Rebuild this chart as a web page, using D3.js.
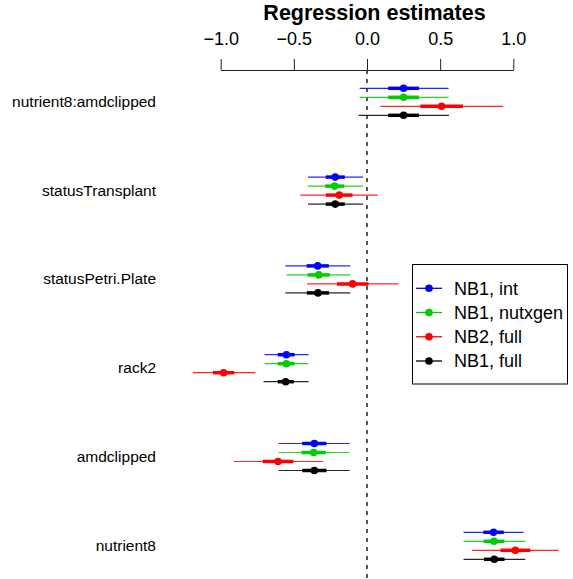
<!DOCTYPE html>
<html>
<head>
<meta charset="utf-8">
<script src="https://cdn.jsdelivr.net/npm/d3@7"></script>
<style>
  html, body { margin: 0; padding: 0; background: #fff; }
  svg { display: block; font-family: "Liberation Sans", Arial, Helvetica, sans-serif; }
</style>
</head>
<body>
<svg id="chart" width="573" height="579"></svg>
<script>
// ---- data ----
const categories = ["nutrient8:amdclipped", "statusTransplant", "statusPetri.Plate", "rack2", "amdclipped", "nutrient8"];
const seriesNames = ["NB1, int", "NB1, nutxgen", "NB2, full", "NB1, full"];
const seriesColors = ["#0000FF", "#00CD00", "#FF0000", "#000000"];
const xTicks = [-1.0, -0.5, 0.0, 0.5, 1.0];

const estBlue  = [0.25, -0.217, -0.337, -0.551, -0.36, 0.865];
const estGreen = [0.25, -0.221, -0.33, -0.551, -0.365, 0.868];
const estRed   = [0.51, -0.19, -0.098, -0.98, -0.608, 1.014];
const estBlack = [0.25, -0.217, -0.335, -0.556, -0.36, 0.87];

const lo95Blue  = [-0.05, -0.403, -0.558, -0.70, -0.604, 0.66];
const hi95Blue  = [0.558, -0.027, -0.114, -0.399, -0.119, 1.07];
const lo95Green = [-0.05, -0.405, -0.55, -0.70, -0.604, 0.66];
const hi95Green = [0.558, -0.027, -0.114, -0.399, -0.119, 1.082];
const lo95Red   = [0.091, -0.456, -0.41, -1.19, -0.912, 0.718];
const hi95Red   = [0.93, 0.075, 0.216, -0.763, -0.30, 1.31];
const lo95Black = [-0.057, -0.403, -0.558, -0.707, -0.604, 0.66];
const hi95Black = [0.56, -0.027, -0.114, -0.399, -0.119, 1.082];

const lo50Blue  = [0.145, -0.282, -0.413, -0.61, -0.443, 0.795];
const hi50Blue  = [0.355, -0.152, -0.261, -0.495, -0.277, 0.935];
const lo50Green = [0.145, -0.286, -0.406, -0.61, -0.448, 0.797];
const hi50Green = [0.355, -0.156, -0.254, -0.495, -0.282, 0.939];
const lo50Red   = [0.364, -0.281, -0.206, -1.053, -0.713, 0.912];
const hi50Red   = [0.656, -0.099, 0.01, -0.907, -0.503, 1.116];
const lo50Black = [0.145, -0.282, -0.411, -0.61, -0.443, 0.80];
const hi50Black = [0.355, -0.152, -0.259, -0.50, -0.277, 0.94];

const est  = [estBlue, estGreen, estRed, estBlack];
const lo95 = [lo95Blue, lo95Green, lo95Red, lo95Black];
const hi95 = [hi95Blue, hi95Green, hi95Red, hi95Black];
const lo50 = [lo50Blue, lo50Green, lo50Red, lo50Black];
const hi50 = [hi50Blue, hi50Green, hi50Red, hi50Black];

// ---- scales ----
const svg = d3.select("#chart");
const x = d3.scaleLinear().domain([-1, 1]).range([220.7, 513.3]);
const yGroup = d3.scalePoint().domain(categories).range([101.8, 545.8]);
const yRow = d3.scalePoint().domain(seriesNames).range([-13.5, 13.5]);

// title
svg.append("text")
  .attr("x", 374.5).attr("y", 19.5)
  .attr("text-anchor", "middle")
  .attr("font-weight", "bold")
  .attr("font-size", 21.5)
  .text("Regression estimates");

// zero reference line
svg.append("line")
  .attr("x1", x(0)).attr("x2", x(0))
  .attr("y1", 70).attr("y2", 579)
  .attr("stroke", "#555")
  .attr("stroke-width", 2)
  .attr("stroke-dasharray", "4,5");

// top axis
const axis = svg.append("g")
  .attr("transform", "translate(0,70)")
  .call(d3.axisTop(x).tickValues(xTicks).tickSize(11).tickSizeOuter(0).tickPadding(14).tickFormat(d3.format(".1f")));
axis.select(".domain").attr("stroke", "#222");
axis.selectAll(".tick line").attr("stroke", "#222");
axis.selectAll(".tick text").attr("font-size", 18).attr("fill", "#000")
  .style("font-family", "'Liberation Sans', Arial, Helvetica, sans-serif");

// category labels
svg.append("g").selectAll("text")
  .data(categories)
  .join("text")
  .attr("x", 156)
  .attr("y", d => yGroup(d) + 5)
  .attr("text-anchor", "end")
  .attr("font-size", 15.5)
  .text(d => d);

// estimates
const rows = [];
seriesNames.forEach((s, si) => {
  categories.forEach((c, ci) => {
    rows.push({ s, si, c, est: est[si][ci], lo95: lo95[si][ci], hi95: hi95[si][ci], lo50: lo50[si][ci], hi50: hi50[si][ci] });
  });
});
const g = svg.append("g");
const yOf = d => yGroup(d.c) + yRow(d.s);
g.selectAll("line.thin").data(rows).join("line").attr("class", "thin")
  .attr("x1", d => x(d.lo95)).attr("x2", d => x(d.hi95))
  .attr("y1", yOf).attr("y2", yOf)
  .attr("stroke", d => seriesColors[d.si]).attr("stroke-width", 1.2).attr("stroke-opacity", 0.85);
g.selectAll("line.thick").data(rows).join("line").attr("class", "thick")
  .attr("x1", d => x(d.lo50)).attr("x2", d => x(d.hi50))
  .attr("y1", yOf).attr("y2", yOf)
  .attr("stroke", d => seriesColors[d.si]).attr("stroke-width", 3.5);
g.selectAll("circle").data(rows).join("circle")
  .attr("cx", d => x(d.est)).attr("cy", yOf).attr("r", 3.8)
  .attr("fill", d => seriesColors[d.si]);

// legend
const lg = svg.append("g");
lg.append("rect").attr("x", 412.5).attr("y", 264.5).attr("width", 155).attr("height", 119.5)
  .attr("fill", "#fff").attr("stroke", "#000").attr("stroke-width", 1);
const ly = d3.scalePoint().domain(seriesNames).range([288.3, 361]);
const items = lg.selectAll("g.item").data(seriesNames).join("g").attr("class", "item")
  .attr("transform", d => `translate(0,${ly(d)})`);
items.append("line").attr("x1", 416).attr("x2", 442).attr("y1", 0).attr("y2", 0)
  .attr("stroke", (d, i) => seriesColors[i]).attr("stroke-width", 1.3);
items.append("circle").attr("cx", 429).attr("cy", 0).attr("r", 3.8)
  .attr("fill", (d, i) => seriesColors[i]);
items.append("text").attr("x", 454).attr("y", 6.3).attr("font-size", 18).text(d => d);
</script>
</body>
</html>
